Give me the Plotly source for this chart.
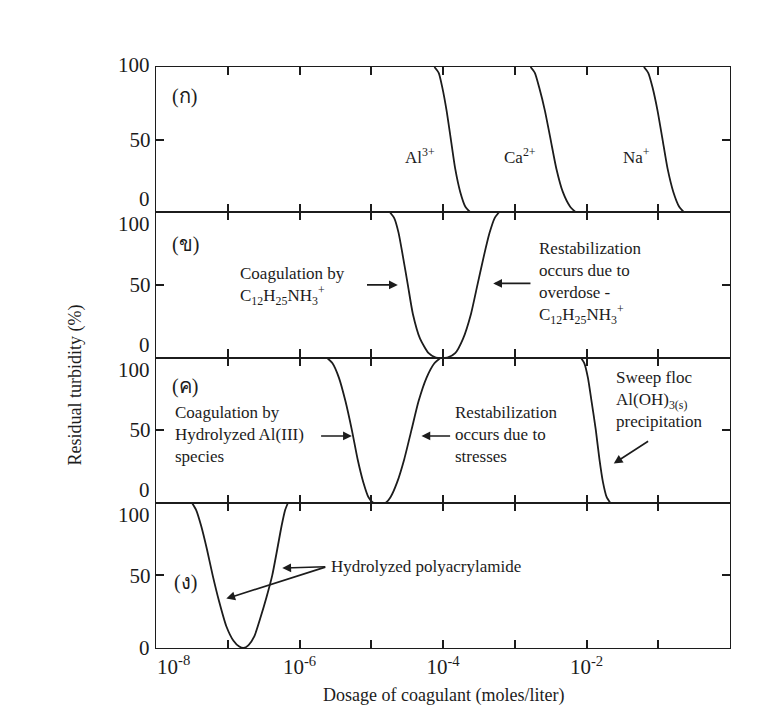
import plotly.graph_objects as go
from plotly.subplots import make_subplots

# ---------------- data (x given as log10 of dosage, mol/L) ----------------
# Panel (ก): simple electrolytes
al_logx = [-4.12, -4.06, -4.01, -3.95, -3.89, -3.83, -3.76, -3.69, -3.62]
al_y    = [100, 96, 86, 70, 50, 30, 14, 4, 0]
ca_logx = [-2.78, -2.72, -2.66, -2.58, -2.50, -2.42, -2.33, -2.23, -2.15]
ca_y    = [100, 96, 86, 70, 50, 30, 14, 4, 0]
na_logx = [-1.20, -1.14, -1.08, -1.01, -0.94, -0.87, -0.79, -0.71, -0.64]
na_y    = [100, 96, 86, 70, 50, 30, 14, 4, 0]

# Panel (ข): C12H25NH3+
b_logx = [-4.74, -4.68, -4.62, -4.56, -4.49, -4.42, -4.32, -4.20, -4.10, -3.94,
          -3.83, -3.72, -3.61, -3.52, -3.43, -3.35, -3.28, -3.22]
b_y    = [100, 96, 86, 70, 50, 30, 13, 3, 0, 0,
          3, 13, 30, 50, 70, 86, 96, 100]

# Panel (ค): hydrolyzed Al(III)
c1_logx = [-5.62, -5.54, -5.45, -5.36, -5.27, -5.19, -5.11, -5.04, -4.97, -4.80,
           -4.73, -4.64, -4.54, -4.44, -4.34, -4.23, -4.12, -4.03]
c1_y    = [100, 96, 86, 70, 50, 30, 14, 4, 0, 0,
           4, 14, 30, 50, 70, 86, 96, 100]
c2_logx = [-2.08, -2.03, -1.98, -1.93, -1.87, -1.82, -1.77, -1.72, -1.67]
c2_y    = [100, 96, 86, 70, 50, 30, 14, 4, 0]

# Panel (ง): hydrolyzed polyacrylamide
d_logx = [-7.50, -7.44, -7.37, -7.29, -7.21, -7.12, -7.02, -6.92, -6.84, -6.78,
          -6.71, -6.63, -6.55, -6.46, -6.38, -6.31, -6.25, -6.20, -6.16]
d_y    = [100, 95, 84, 68, 50, 32, 15, 5, 1, 0,
          2, 8, 20, 35, 50, 68, 84, 95, 100]

decades = [-8, -7, -6, -5, -4, -3, -2, -1, 0]
decade_labels = ["", "", "10<sup>-6</sup>", "", "10<sup>-4</sup>", "",
                 "10<sup>-2</sup>", "", ""]
first_decade_label = "10<sup>-8</sup>"
panel_labels = ["(ก)", "(ข)", "(ค)", "(ง)"]

# ---------------- figure ----------------
INK = "#1c1c1c"
FONT = "Liberation Serif"

fig = make_subplots(rows=4, cols=1, shared_xaxes=True, vertical_spacing=0)

def add_curve(logx, y, row):
    fig.add_trace(go.Scatter(
        x=[10 ** v for v in logx], y=y, mode="lines",
        line=dict(color=INK, width=1.8, shape="spline", smoothing=0.6),
        showlegend=False, hoverinfo="skip"), row=row, col=1)

add_curve(al_logx, al_y, 1)
add_curve(ca_logx, ca_y, 1)
add_curve(na_logx, na_y, 1)
add_curve(b_logx, b_y, 2)
add_curve(c1_logx, c1_y, 3)
add_curve(c2_logx, c2_y, 3)
add_curve(d_logx, d_y, 4)

for r in range(1, 5):
    fig.update_yaxes(range=[0, 100], tickvals=[0, 50, 100], ticktext=["", "50", ""],
                     ticks="inside", ticklen=8, tickwidth=1.5, tickcolor=INK,
                     showline=True, linecolor=INK, linewidth=1.4, mirror="ticks",
                     showgrid=False, zeroline=False,
                     tickfont=dict(family=FONT, size=21, color=INK), row=r, col=1)
    fig.update_xaxes(type="log", range=[-8, 0],
                     tickvals=[10 ** d for d in decades], ticktext=decade_labels,
                     ticks="inside", ticklen=8, tickwidth=1.5, tickcolor=INK,
                     showline=True, linecolor=INK, linewidth=1.4, mirror="ticks",
                     showgrid=False, zeroline=False,
                     tickfont=dict(family=FONT, size=21, color=INK), row=r, col=1)

ann = []
def txt(row, x, y, text, size=17, xanchor="left", yanchor="middle", align="left"):
    sfx = "" if row == 1 else str(row)
    ann.append(dict(xref="x" + sfx, yref="y" + sfx, x=x, y=y, text=text, showarrow=False,
                    xanchor=xanchor, yanchor=yanchor, align=align,
                    font=dict(family=FONT, size=size, color=INK)))

def arrow(row, x0, y0, x1, y1):
    sfx = "" if row == 1 else str(row)
    ann.append(dict(xref="x" + sfx, yref="y" + sfx, axref="x" + sfx, ayref="y" + sfx,
                    ax=x0, ay=y0, x=x1, y=y1, text="", showarrow=True,
                    arrowhead=2, arrowsize=1.1, arrowwidth=1.6, arrowcolor=INK))

# y tick labels 0 / 100 placed beside the panel borders
for r in range(1, 5):
    sfx = "" if r == 1 else str(r)
    ann.append(dict(xref="paper", yref="y" + sfx, x=0, y=100, xanchor="right",
                    yanchor="middle" if r == 1 else "top", xshift=-4,
                    yshift=2, text="100", showarrow=False,
                    font=dict(family=FONT, size=21, color=INK)))
    ann.append(dict(xref="paper", yref="y" + sfx, x=0, y=0, xanchor="right",
                    yanchor="middle" if r == 4 else "bottom", xshift=-4,
                    yshift=0 if r == 4 else -1, text="0", showarrow=False,
                    font=dict(family=FONT, size=21, color=INK)))

# first decade label on the bottom axis, starting at the left border
ann.append(dict(xref="x4", yref="paper", x=-8, y=0, xanchor="left", yanchor="top",
                yshift=-2, xshift=-1, text=first_decade_label, showarrow=False,
                font=dict(family=FONT, size=21, color=INK)))

# panel labels
txt(1, -7.80, 80, panel_labels[0], size=20)
txt(2, -7.80, 78, panel_labels[1], size=20)
txt(3, -7.80, 80, panel_labels[2], size=20)
txt(4, -7.78, 45, panel_labels[3], size=20)

# panel (ก)
txt(1, -4.32, 39, "Al<sup>3+</sup>", xanchor="center")
txt(1, -2.92, 39, "Ca<sup>2+</sup>", xanchor="center")
txt(1, -1.30, 39, "Na<sup>+</sup>", xanchor="center")

# panel (ข)
txt(2, -6.86, 49, "Coagulation by<br>C<sub>12</sub>H<sub>25</sub>NH<sub>3</sub><sup>+</sup>")
arrow(2, -5.08, 50, -4.63, 50)
txt(2, -2.69, 51, "Restabilization<br>occurs due to<br>overdose -<br>"
                  "C<sub>12</sub>H<sub>25</sub>NH<sub>3</sub><sup>+</sup>")
arrow(2, -2.76, 51, -3.30, 51)

# panel (ค)
txt(3, -7.76, 47, "Coagulation by<br>Hydrolyzed Al(III)<br>species")
arrow(3, -5.72, 46, -5.27, 46)
txt(3, -3.86, 47, "Restabilization<br>occurs due to<br>stresses")
arrow(3, -3.88, 46, -4.30, 46)
txt(3, -1.62, 71, "Sweep floc<br>Al(OH)<sub>3(s)</sub><br>precipitation")
arrow(3, -1.12, 43, -1.62, 27)

# panel (ง)
txt(4, -5.59, 56, "Hydrolyzed polyacrylamide")
arrow(4, -5.62, 56, -6.24, 55)
arrow(4, -5.62, 56, -7.02, 34)

# axis titles
ann.append(dict(xref="paper", yref="paper", x=-0.14, y=0.453, textangle=-90,
                text="Residual turbidity (%)", showarrow=False,
                xanchor="center", yanchor="middle",
                font=dict(family=FONT, size=18, color=INK)))
ann.append(dict(xref="paper", yref="paper", x=0.5, y=0, yshift=-47,
                text="Dosage of coagulant (moles/liter)", showarrow=False,
                xanchor="center", yanchor="middle",
                font=dict(family=FONT, size=18, color=INK)))

fig.update_layout(
    width=765, height=711,
    margin=dict(l=148, r=43, t=59, b=71),
    paper_bgcolor="white", plot_bgcolor="white",
    annotations=ann, showlegend=False,
    font=dict(family=FONT, color=INK),
)

fig.write_html("out.html")
